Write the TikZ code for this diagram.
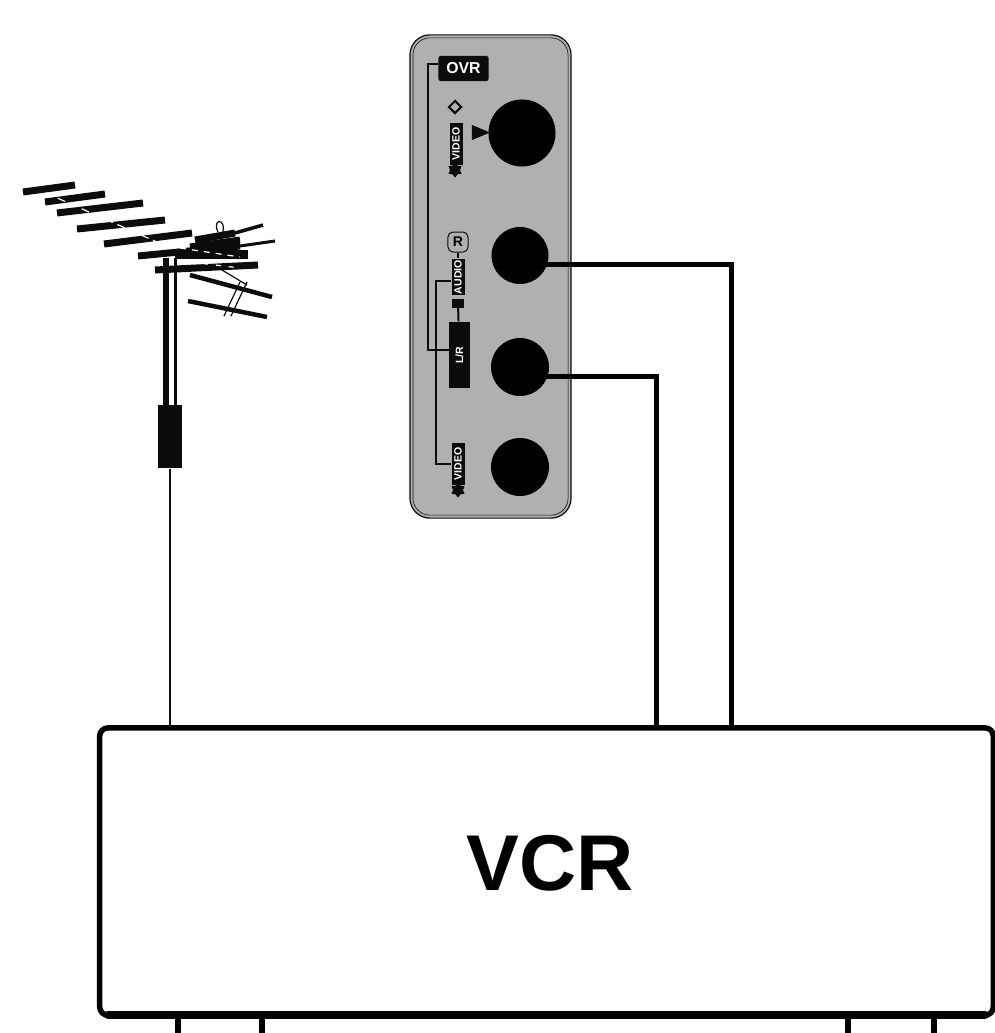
\documentclass[tikz,border=0pt]{standalone}
\usepackage{fontspec}
\usepackage{tikz}
\usetikzlibrary{shapes.geometric}
\setmainfont{Liberation Sans}
\definecolor{panelGray}{RGB}{176, 176, 176}
\definecolor{inkBlack}{RGB}{12, 12, 12}
\tikzset{
  jack/.style={circle, fill=black, inner sep=0pt},
  wire/.style={line width=0.05cm, black},
  element/.style={line width=0.07cm, inkBlack},
  strut/.style={line width=0.012cm, inkBlack},
  legend/.style={rotate=90, fill=inkBlack, text=white, inner sep=0.3pt, font=\fontsize{3}{3}\selectfont\bfseries},
  bracket/.style={line width=0.02cm, inkBlack}
}
\begin{document}
\begin{tikzpicture}[x=0.01cm, y=-0.01cm]
        \useasboundingbox (0,0) rectangle (995,1033);
        \node[draw=inkBlack, fill=panelGray, line width=0.012cm, rounded corners=0.2cm, minimum width=1.61cm, minimum height=4.83cm, inner sep=0pt] (panel) at (490.5,276.5) {};
        \node[draw=inkBlack, line width=0.006cm, rounded corners=0.17cm, minimum width=1.55cm, minimum height=4.77cm, inner sep=0pt] (panelInner) at (490.5,276.5) {};
        \node[jack, minimum size=0.67cm] (jackIn) at (522,133) {};
        \node[jack, minimum size=0.57cm] (jackR) at (520,255.5) {};
        \node[jack, minimum size=0.58cm] (jackL) at (520,367) {};
        \node[jack, minimum size=0.58cm] (jackVideo) at (520,467) {};
        \node[fill=inkBlack, text=white, rounded corners=0.02cm, minimum width=0.5cm, minimum height=0.25cm, inner sep=0pt, font=\fontsize{4.5}{4.5}\selectfont\bfseries] (overLabel) at (463.5,68.5) {OVR};
        \node[legend, minimum width=0.42cm, minimum height=0.13cm] (videoTop) at (456,144) {VIDEO};
        \node[legend, minimum width=0.42cm, minimum height=0.13cm] (videoLow) at (458,464) {VIDEO};
        \node[legend, minimum width=0.34cm, minimum height=0.13cm] (audioText) at (458,277) {AUDIO};
        \node[legend, minimum width=0.66cm, minimum height=0.2cm] (lrBox) at (459.5,355) {L/R};
        \node[draw=inkBlack, line width=0.01cm, rounded corners=0.05cm, minimum width=0.2cm, minimum height=0.2cm, inner sep=0pt, font=\fontsize{4}{4}\selectfont\bfseries] (rBadge) at (458,242) {R};
        \node[fill=inkBlack, minimum width=0.12cm, minimum height=0.09cm, inner sep=0pt] (audioTab) at (458,303) {};
        \node[star, star points=6, fill=inkBlack, minimum size=0.15cm, inner sep=0pt] (starTop) at (455,170) {};
        \node[star, star points=6, fill=inkBlack, minimum size=0.15cm, inner sep=0pt] (starLow) at (458,490) {};
        \node[diamond, draw=inkBlack, line width=0.02cm, minimum size=0.13cm, inner sep=0pt] (diamondTop) at (455,107) {};
        \node[isosceles triangle, fill=inkBlack, minimum width=0.15cm, minimum height=0.15cm, inner sep=0pt] (arrowIn) at (477,132.5) {};
        \draw[bracket] (438,64) -- (428,64) -- (428,350) -- (449,350);
        \draw[bracket] (451,281) -- (436,281) -- (436,464) -- (451,464);
        \draw[bracket] (rBadge) -- (audioText);
        \draw[bracket] (audioTab) -- (lrBox);
        \node[draw=black, line width=0.055cm, fill=white, rounded corners=0.08cm, minimum width=8.93cm, minimum height=2.87cm, inner sep=0pt] (vcr) at (546.5,871.5) {};
        \node[inner sep=0pt, font=\fontsize{22.5}{22.5}\selectfont\bfseries] (vcrLabel) at (550,863) {VCR};
        \draw[black, line width=0.085cm, line cap=round] (108,1015) -- (985,1015);
        \coordinate (wireR) at (546,264);
        \coordinate (wireL) at (546,376);
        \coordinate (vcrR) at (731,728);
        \coordinate (vcrL) at (656,728);
        \draw[wire] (wireR) -| (vcrR);
        \draw[wire] (wireL) -| (vcrL);
        \foreach \stubName/\stubX in {stubA/178, stubB/262, stubC/848, stubD/934} {
          \coordinate (\stubName) at (\stubX,1033);
          \draw[line width=0.06cm, black] (\stubX,1015) -- (\stubName);
        }
        \draw[element] (23,192) -- (75,185);
        \draw[element] (45,202) -- (105,194);
        \draw[element] (57,213) -- (143,203);
        \draw[element] (77,229) -- (165,220);
        \draw[element] (104,244) -- (192,233);
        \draw[element] (138,256) -- (240,246);
        \draw[element, line width=0.03cm] (240,246) -- (275,241);
        \draw[element] (155,270) -- (258,265);
        \draw[element, line width=0.045cm] (190,275) -- (272,297);
        \draw[element, line width=0.045cm] (188,301) -- (267,317);
        \draw[element] (195,240) -- (235,233);
        \draw[element, line width=0.035cm] (235,233) -- (263,225);
        \draw[element, line width=0.09cm] (175,254) -- (248,254);
        \draw[element] (190,247) -- (240,240);
        \draw[white, line width=0.012cm, dash pattern=on 0.08cm off 0.05cm] (46,193) -- (175,250);
        \draw[white, line width=0.012cm, dash pattern=on 0.06cm off 0.06cm] (180,248) -- (240,257);
        \draw[white, line width=0.012cm, dash pattern=on 0.05cm off 0.08cm] (190,262) -- (240,268);
        \draw[strut] (218,232) .. controls (214,224) and (218,220) .. (221,222) .. controls (224,224) and (224,230) .. (222,234);
        \draw[strut] (224,316) -- (240,282);
        \draw[strut] (231,316) -- (247,282);
        \draw[strut] (222,270) -- (247,285);
        \node[fill=inkBlack, minimum width=0.24cm, minimum height=0.63cm, inner sep=0pt] (balun) at (170,436.5) {};
        \draw[inkBlack, line width=0.055cm] (166,258) -- (166,405);
        \draw[inkBlack, line width=0.03cm] (175,258) -- (175,405);
        \draw[inkBlack, line width=0.02cm] (balun) -- (170,728);
      \end{tikzpicture}
\end{document}
